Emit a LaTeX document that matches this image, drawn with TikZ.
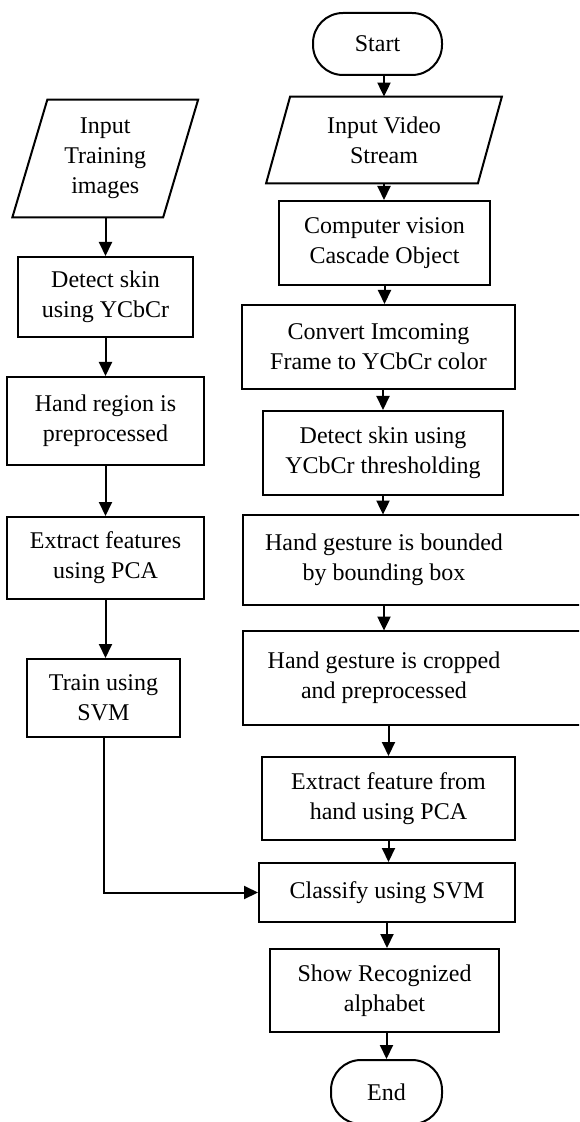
\documentclass[tikz,border=0pt]{standalone}
\usepackage{fontspec}
\setmainfont{Liberation Serif}
\usetikzlibrary{arrows.meta}
\begin{document}
\begin{tikzpicture}[x=0.5pt,y=-0.5pt,
  lw/.style={line width=1pt},
  txt/.style={inner sep=0pt,align=center,font=\fontsize{12pt}{15pt}\selectfont},
  box/.style={txt,draw,lw,rectangle},
  term/.style={txt,draw,lw,rectangle,rounded corners=15pt},
  arr/.style={lw,-{Triangle[width=6.5pt,length=7pt]}}]
\useasboundingbox (0,0) rectangle (579,1122);
\clip (0,0) rectangle (579,1122);
\fill[white] (0,0) rectangle (579,1122);
% right column
\node[term,minimum width=64.5pt,minimum height=31pt] (start) at (377.5,44) {Start};
\node[txt,minimum width=105.5pt,minimum height=43pt] (vin) at (384,140) {Input Video\\Stream};
\draw[lw] ([xshift=-6pt]vin.south west) -- ([xshift=-6pt]vin.south east) -- ([xshift=6pt]vin.north east) -- ([xshift=6pt]vin.north west) -- cycle;
\node[box,minimum width=105.5pt,minimum height=42pt] (cv) at (384.5,243) {Computer vision\\Cascade Object};
\node[box,minimum width=136.5pt,minimum height=42pt] (conv) at (378.5,347) {Convert Imcoming\\Frame to YCbCr color};
\node[box,minimum width=120pt,minimum height=42pt] (det) at (383,453) {Detect skin using\\YCbCr thresholding};
\node[txt,minimum height=45pt] (bnd) at (384,560) {Hand gesture is bounded\\by bounding box};
\draw[lw] (243,515) rectangle (600,605);
\node[txt,minimum height=47pt] (crop) at (384,678) {Hand gesture is cropped\\and preprocessed};
\draw[lw] (243,631) rectangle (600,725);
\node[box,minimum width=126.5pt,minimum height=41.5pt] (pca) at (388.5,798.5) {Extract feature from\\hand using PCA};
\node[box,minimum width=128pt,minimum height=29.5pt] (cls) at (387,892.5) {Classify using SVM};
\node[box,minimum width=114.5pt,minimum height=41.5pt] (show) at (384.5,990.5) {Show Recognized\\alphabet};
\node[term,minimum width=55.5pt,minimum height=32pt] (end) at (386.5,1092) {End};
% left column
\node[txt,minimum width=75pt,minimum height=58.5pt] (tin) at (105.25,158.5) {Input\\Training\\images};
\draw[lw] ([xshift=-8.75pt]tin.south west) -- ([xshift=-8.75pt]tin.south east) -- ([xshift=8.75pt]tin.north east) -- ([xshift=8.75pt]tin.north west) -- cycle;
\node[box,minimum width=87.5pt,minimum height=40pt] (lskin) at (105.5,297) {Detect skin\\using YCbCr};
\node[box,minimum width=98.5pt,minimum height=44pt] (hreg) at (105.5,421) {Hand region is\\preprocessed};
\node[box,minimum width=98.5pt,minimum height=41pt] (feat) at (105.5,558) {Extract features\\using PCA};
\node[box,minimum width=76.5pt,minimum height=39pt] (train) at (103.5,698) {Train using\\SVM};
% connectors right
\draw[arr] (vin.north |- start.south) -- (vin.north);
\draw[arr] (vin.south) -- (vin.south |- cv.north);
\draw[arr] (cv.south) -- (cv.south |- conv.north);
\draw[arr] (det.north |- conv.south) -- (det.north);
\draw[arr] (det.south) -- (det.south |- bnd.north);
\draw[arr] (bnd.south) -- (crop.north);
\draw[arr] (pca.north |- crop.south) -- (pca.north);
\draw[arr] (pca.south) -- (pca.south |- cls.north);
\draw[arr] (cls.south) -- (cls.south |- show.north);
\draw[arr] (end.north |- show.south) -- (end.north);
% connectors left
\draw[arr] (lskin.north |- tin.south) -- (lskin.north);
\draw[arr] (lskin.south) -- (lskin.south |- hreg.north);
\draw[arr] (hreg.south) -- (hreg.south |- feat.north);
\draw[arr] (feat.south) -- (feat.south |- train.north);
\draw[arr] (train.south) |- (cls.west);
\end{tikzpicture}
\end{document}
